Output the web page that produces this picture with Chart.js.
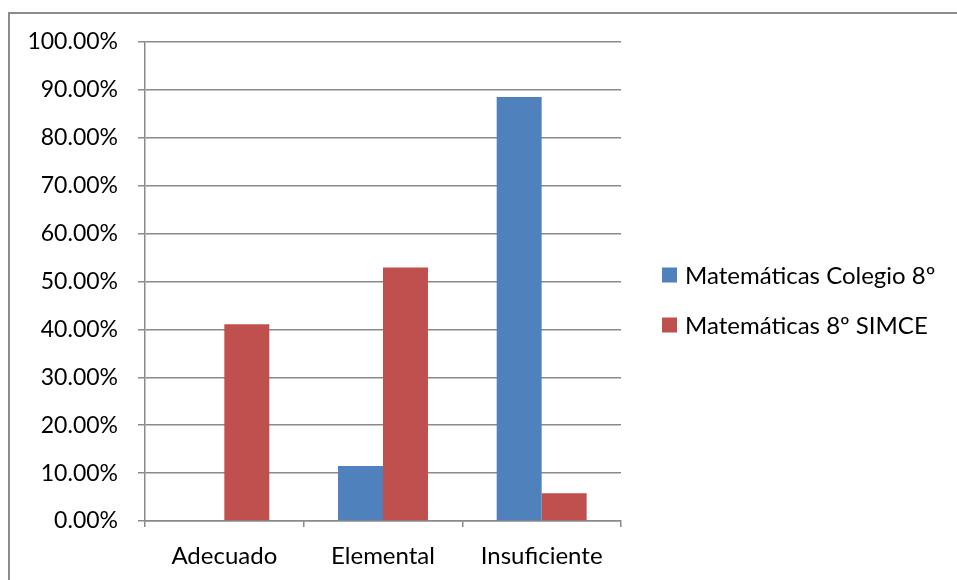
<!DOCTYPE html>
<html>
<head>
<meta charset="utf-8">
<script src="https://cdn.jsdelivr.net/npm/chart.js@4"></script>
<style>
  html, body { margin: 0; padding: 0; background: #fff; }
  #wrap { position: relative; width: 957px; height: 580px; overflow: hidden; }
  #frame { position: absolute; left: 8px; top: 12px; width: 1000px; height: 700px;
           border-left: 2px solid #8c8c8c; border-top: 2px solid #8c8c8c; }
  canvas { position: absolute; left: 0; top: 0; }
</style>
</head>
<body>
<div id="wrap">
  <canvas id="chart1" width="957" height="580"></canvas>
  <div id="frame"></div>
</div>
<script>
var categories = ['Adecuado', 'Elemental', 'Insuficiente'];
var colegio = [0, 11.5, 88.5];
var simce = [41.1, 52.9, 5.8];
var seriesNames = ['Matemáticas Colegio 8º', 'Matemáticas 8º SIMCE'];
var yTicks = [0, 10, 20, 30, 40, 50, 60, 70, 80, 90, 100];

var FONT = 'Lato, "Open Sans", sans-serif';
var gridColor = '#8a8a8a';

// legend drawn by hand to place it like the original
var sideLegend = {
    id: 'sideLegend',
    afterDraw: function (chart) {
        var ctx = chart.ctx;
        var x = chart.chartArea.right + 41;
        ctx.save();
        ctx.font = '24px ' + FONT;
        ctx.textBaseline = 'middle';
        chart.data.datasets.forEach(function (ds, i) {
            var cy = 275 + i * 50;
            ctx.fillStyle = ds.backgroundColor;
            ctx.fillRect(x, cy - 7.5, 15, 15);
            ctx.fillStyle = '#000';
            ctx.fillText(ds.label, x + 23, cy + 1);
        });
        ctx.restore();
    }
};

new Chart(document.getElementById('chart1'), {
    type: 'bar',
    data: {
        labels: categories,
        datasets: [
            { label: seriesNames[0], data: colegio, backgroundColor: '#4F81BD' },
            { label: seriesNames[1], data: simce, backgroundColor: '#C0504D' }
        ]
    },
    options: {
        responsive: false,
        animation: false,
        layout: { padding: { left: 0, top: 42, right: 336, bottom: 0 } },
        datasets: { bar: { categoryPercentage: 0.567, barPercentage: 1 } },
        plugins: {
            legend: { display: false },
            tooltip: { enabled: false }
        },
        scales: {
            x: {
                grid: { offset: true, drawOnChartArea: false, drawTicks: true, tickLength: 6, color: gridColor, lineWidth: 1.5 },
                border: { color: gridColor, width: 1.5 },
                ticks: { color: '#000', font: { family: FONT, size: 24 }, padding: 15 },
                afterFit: function (s) { s.height = 59; }
            },
            y: {
                min: 0,
                max: 100,
                afterBuildTicks: function (s) { s.ticks = yTicks.map(function (v) { return { value: v }; }); },
                grid: { color: gridColor, lineWidth: 1.5, tickLength: 7 },
                border: { color: gridColor, width: 1.5 },
                ticks: {
                    color: '#000',
                    font: { family: FONT, size: 23 },
                    padding: 20,
                    callback: function (v) { return v.toFixed(2) + '%'; }
                },
                afterFit: function (s) { s.width = 145; }
            }
        }
    },
    plugins: [sideLegend]
});
</script>
</body>
</html>
